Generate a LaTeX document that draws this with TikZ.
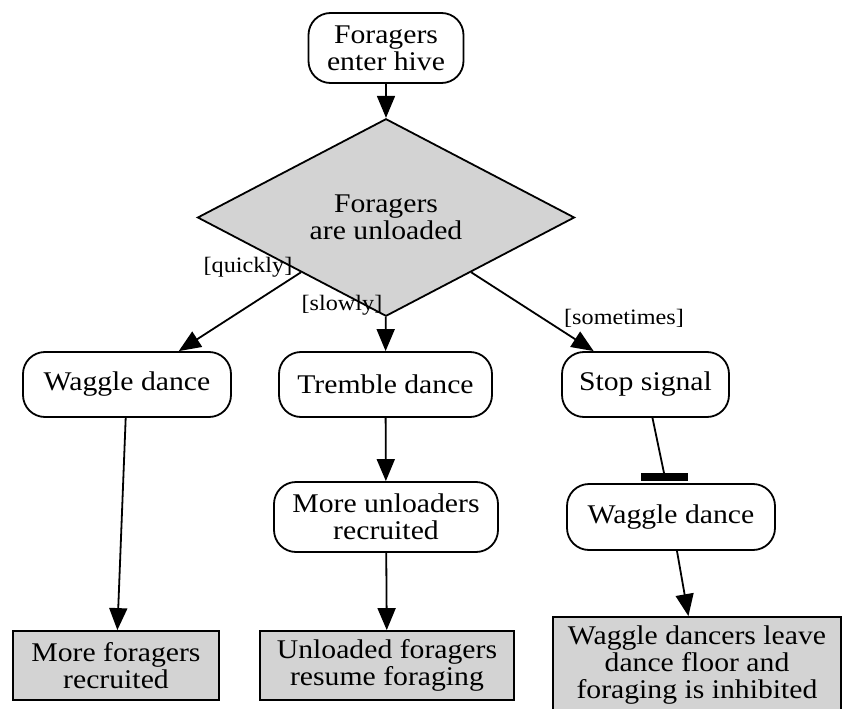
\documentclass[tikz,border=0pt]{standalone}
\usepackage{fontspec}
\newfontfamily\gvfont{Liberation Serif}[FakeStretch=1.1]
\usetikzlibrary{shapes.geometric,arrows.meta,calc}
\definecolor{gvgray}{HTML}{D3D3D3}
\begin{document}
\begin{tikzpicture}[x=1pt,y=-1pt,
  every node/.style={font=\gvfont\fontsize{27}{27}\selectfont, align=center, inner sep=0pt, line width=1.8pt},
  rbox/.style={draw, rounded corners=22pt, fill=white},
  gbox/.style={draw, fill=gvgray},
  dia/.style={draw, diamond, fill=gvgray, minimum width=377pt, minimum height=137pt},
  lbl/.style={font=\gvfont\fontsize{22}{24}\selectfont},
  edge/.style={line width=1.8pt, -{Triangle[length=22pt 0 0,width=18pt 0 0]}},
]
\useasboundingbox (0,0) rectangle (844,709);
\fill[white] (0,0) rectangle (844,709);

\node[rbox, minimum width=155pt, minimum height=70pt] (enter) at (386,48) {Foragers\\enter hive};
\node[dia] (dec) at (386,217.5) {Foragers\\are unloaded};

\node[rbox, minimum width=208pt, minimum height=65pt] (w1) at (127,384.5) {Waggle dance};
\node[rbox, minimum width=213pt, minimum height=65pt] (tr) at (385.5,384.5) {Tremble dance};
\node[rbox, minimum width=167pt, minimum height=65pt] (st) at (645.5,384.5) {Stop signal};

\node[rbox, minimum width=224pt, minimum height=70pt] (un) at (386,517) {More unloaders\\recruited};
\node[rbox, minimum width=208pt, minimum height=66pt] (w2) at (671,517) {Waggle dance};

\node[gbox, minimum width=206pt, minimum height=69pt] (fr) at (116,665.5) {More foragers\\recruited};
\node[gbox, minimum width=254pt, minimum height=69pt] (rf) at (387,665.5) {Unloaded foragers\\resume foraging};
\node[gbox, minimum width=288pt, minimum height=96pt] (inh) at (697,665) {Waggle dancers leave\\dance floor and\\foraging is inhibited};

\node[lbl] (lq) at (248,267) {[quickly]};
\node[lbl] (ls) at (342,305) {[slowly]};
\node[lbl] (lso) at (624,318) {[sometimes]};

\draw[edge] (enter) -- (dec);
\draw[edge] (dec) -- (w1);
\draw[edge] (dec) -- (tr);
\draw[edge] (dec) -- (st);
\draw[edge] (w1) -- (fr);
\draw[edge] (tr) -- (un);
\draw[edge] (un) -- (rf);
\draw[edge] (w2) -- (inh);

\coordinate (tb) at (664,473);
\draw[line width=1.8pt] (st) -- (tb);
\fill ($(tb)+(-23,0)$) rectangle ($(tb)+(24,8)$);
\end{tikzpicture}
\end{document}
